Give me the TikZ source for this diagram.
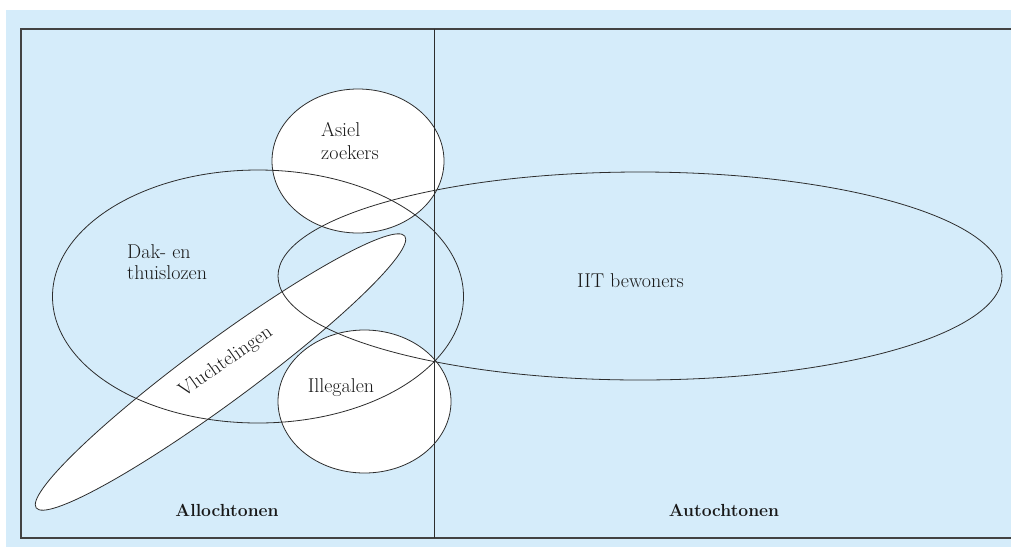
\documentclass[tikz,border=0pt]{standalone}
\usepackage{xcolor}
\definecolor{bgblue}{RGB}{213,236,250}
\definecolor{lineg}{RGB}{45,45,45}
\begin{document}
\begin{tikzpicture}[x=1pt,y=-1pt,
  outline/.style={draw=lineg, line width=0.8pt},
  whitefill/.style={fill=white},
  framel/.style={draw=lineg!90!white, line width=1.4pt},
  lbl/.style={font=\fontsize{20}{24}\selectfont, inner sep=0pt, text=black!90},
  boldlbl/.style={font=\fontsize{17.5}{21}\selectfont\bfseries, inner sep=0pt, text=black!90}]
\useasboundingbox (0,0) rectangle (1011,547);
\fill[bgblue] (6,10) rectangle (1011,547);
% white fills
\fill[whitefill] (358,161) ellipse [x radius=86, y radius=72];
\fill[whitefill] (364.5,401.5) ellipse [x radius=86.5, y radius=71.5];
\fill[whitefill, rotate around={36.4:(220.5,372)}] (220.5,372) ellipse [x radius=229, y radius=31];
% outlines
\draw[outline] (358,161) ellipse [x radius=86, y radius=72];
\draw[outline] (364.5,401.5) ellipse [x radius=86.5, y radius=71.5];
\draw[outline, rotate around={36.4:(220.5,372)}] (220.5,372) ellipse [x radius=229, y radius=31];
\draw[outline] (258,296.5) ellipse [x radius=205.5, y radius=126.5];
\draw[outline] (640,276) ellipse [x radius=362, y radius=104];
% frame
\draw[framel] (1020,29) -- (21,29) -- (21,538) -- (1020,538);
\draw[draw=lineg, line width=0.9pt] (434,29) -- (434,538);
% labels
\node[lbl, anchor=base west] (asiel1) at (321,136.5) {Asiel};
\node[lbl, anchor=base west] (asiel2) at (321,159) {zoekers};
\node[lbl, anchor=base west] (dak1) at (127,258) {Dak- en};
\node[lbl, anchor=base west] (dak2) at (127,279.5) {thuislozen};
\node[lbl, anchor=base] (illeg) at (341,392) {Illegalen};
\node[lbl, anchor=base west] (iit) at (577,287) {IIT bewoners};
\node[lbl, rotate=35] (vlucht) at (226,362) {Vluchtelingen};
\node[boldlbl, anchor=base] (allo) at (227,516) {Allochtonen};
\node[boldlbl, anchor=base] (auto) at (724,516) {Autochtonen};
\end{tikzpicture}
\end{document}
